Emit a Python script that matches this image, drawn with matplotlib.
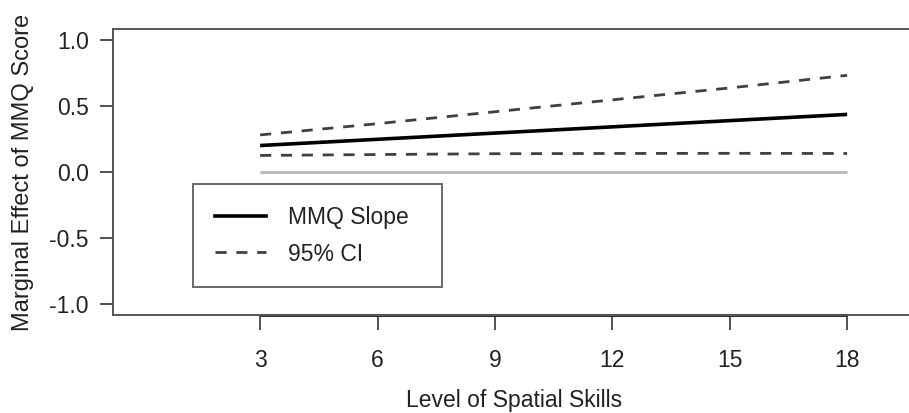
import matplotlib
matplotlib.use("Agg")
import matplotlib.pyplot as plt
from matplotlib.lines import Line2D

plt.rcParams['font.family'] = ['Liberation Sans', 'DejaVu Sans']

# Data
skills = [3, 6, 9, 12, 15, 18]
slope = [0.200, 0.247, 0.294, 0.341, 0.388, 0.435]
ci_upper = [0.280, 0.365, 0.455, 0.545, 0.635, 0.730]
ci_lower = [0.125, 0.132, 0.138, 0.140, 0.141, 0.140]
zero_line = [0, 0, 0, 0, 0, 0]
x_ticks = [3, 6, 9, 12, 15, 18]
y_ticks = [-1.0, -0.5, 0.0, 0.5, 1.0]
y_ticklabels = ["-1.0", "-0.5", "0.0", "0.5", "1.0"]
legend_labels = ["MMQ Slope", "95% CI"]

W, H = 909, 413
fig = plt.figure(figsize=(W / 100, H / 100), dpi=100)
left_px, right_px, top_px, bot_px = 113, 916, 29, 315
ax = fig.add_axes([left_px / W, (H - bot_px) / H, (right_px - left_px) / W, (bot_px - top_px) / H])

ax.set_xlim(-0.76, 19.76)
ax.set_ylim(-1.08, 1.08)

ax.plot(skills, zero_line, color='#bbbbbb', lw=2.2, solid_capstyle='butt')
ax.plot(skills, ci_upper, color='#404040', lw=2.0, dashes=(4, 3.5))
ax.plot(skills, ci_lower, color='#404040', lw=2.0, dashes=(4, 3.5))
ax.plot(skills, slope, color='black', lw=2.6, solid_capstyle='butt')

for s in ['left', 'top', 'bottom', 'right']:
    ax.spines[s].set_color('#555555')
    ax.spines[s].set_linewidth(1.4)

# R-style axis line along x ticks
ax.plot([x_ticks[0], x_ticks[-1]], [-1.08, -1.08], color='#333333', lw=2.2,
        clip_on=False, solid_capstyle='butt')

ax.set_xticks(x_ticks)
ax.set_xticklabels([str(v) for v in x_ticks])
ax.set_yticks(y_ticks)
ax.set_yticklabels(y_ticklabels)
ax.tick_params(axis='x', length=10.8, width=1.3, color='#444444', pad=14,
               labelsize=16.5, labelcolor='#222222')
ax.tick_params(axis='y', length=9.4, width=1.3, color='#444444', pad=8,
               labelsize=16.5, labelcolor='#222222')

ax.set_xlabel("Level of Spatial Skills", fontsize=16.5, color='#222222', labelpad=12)
ax.set_ylabel("Marginal Effect of MMQ Score", fontsize=17, color='#222222', labelpad=11)

handles = [Line2D([], [], color='black', lw=2.6),
           Line2D([], [], color='#404040', lw=2.0, dashes=(4, 3.5))]
lx0, lx1, ly0, ly1 = 193, 442, 184, 286
leg = fig.legend(handles, legend_labels, loc='upper left',
                 bbox_to_anchor=(lx0 / W, (H - ly1) / H, (lx1 - lx0) / W, (ly1 - ly0) / H),
                 mode='expand', borderaxespad=0, fontsize=16.5, frameon=True,
                 fancybox=False, handlelength=2.25, handletextpad=0.95,
                 borderpad=0.95, labelspacing=0.6, labelcolor='#222222')
leg.get_frame().set_edgecolor('#444444')
leg.get_frame().set_linewidth(1.4)

fig.savefig("out.png", dpi=100)
